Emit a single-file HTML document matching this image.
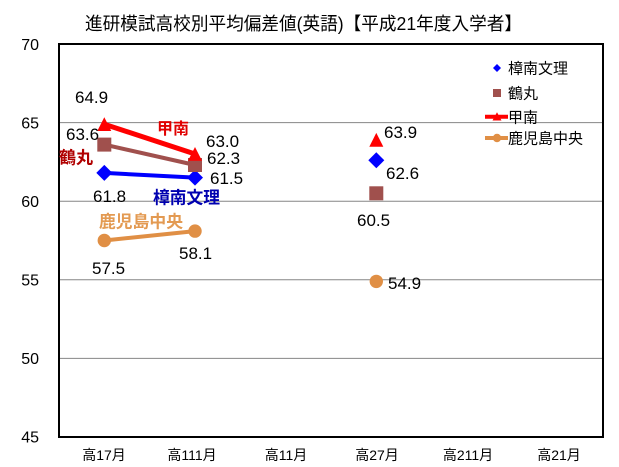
<!DOCTYPE html>
<html>
<head>
<meta charset="utf-8">
<style>
html,body{margin:0;padding:0;background:#fff;}
svg{display:block;}
text{font-family:"Liberation Sans","Noto Sans CJK JP",sans-serif;}
</style>
</head>
<body>
<svg width="619" height="467" viewBox="0 0 619 467" xmlns="http://www.w3.org/2000/svg">
<rect x="0" y="0" width="619" height="467" fill="#fff"/>
<!-- title -->
<text x="85" y="30" font-size="18" textLength="437" lengthAdjust="spacingAndGlyphs" fill="#000">進研模試高校別平均偏差値(英語)【平成21年度入学者】</text>

<!-- gridlines -->
<g stroke="#868686" stroke-width="1">
<line x1="59" y1="122.6" x2="603" y2="122.6"/>
<line x1="59" y1="201.2" x2="603" y2="201.2"/>
<line x1="59" y1="279.8" x2="603" y2="279.8"/>
<line x1="59" y1="358.4" x2="603" y2="358.4"/>
</g>
<!-- plot border -->
<rect x="59" y="44" width="544" height="393" fill="none" stroke="#000" stroke-width="2"/>

<!-- y labels -->
<g font-size="16" fill="#000" text-anchor="end">
<text x="39" y="50">70</text>
<text x="39" y="128.5">65</text>
<text x="39" y="207">60</text>
<text x="39" y="285.5">55</text>
<text x="39" y="364">50</text>
<text x="39" y="442.5">45</text>
</g>

<!-- x labels -->
<g font-size="14" fill="#000" text-anchor="middle">
<text x="104" y="460">高17月</text>
<text x="192" y="460">高111月</text>
<text x="286" y="460">高11月</text>
<text x="377" y="460">高27月</text>
<text x="468" y="460">高211月</text>
<text x="559" y="460">高21月</text>
</g>

<!-- series: 樟南文理 blue -->
<line x1="104.3" y1="172.9" x2="195" y2="177.6" stroke="#0000FF" stroke-width="4"/>
<g fill="#0000FF">
<polygon points="104.3,164.9 112.3,172.9 104.3,180.9 96.3,172.9"/>
<polygon points="195,169.6 203,177.6 195,185.6 187,177.6"/>
<polygon points="376.3,152.3 384.3,160.3 376.3,168.3 368.3,160.3"/>
</g>

<!-- series: 鶴丸 brown -->
<line x1="104.3" y1="144.6" x2="195" y2="165" stroke="#A0504D" stroke-width="4"/>
<g fill="#A0504D">
<rect x="97.3" y="137.6" width="14" height="14"/>
<rect x="188" y="158" width="14" height="14"/>
<rect x="369.3" y="186.3" width="14" height="14"/>
</g>

<!-- series: 甲南 red -->
<line x1="104.3" y1="124.2" x2="195" y2="154" stroke="#FF0000" stroke-width="5"/>
<g fill="#FF0000">
<polygon points="104.3,117.2 111.3,131 97.3,131"/>
<polygon points="195,147 202,160.8 188,160.8"/>
<polygon points="376.3,132.9 383.3,146.7 369.3,146.7"/>
</g>

<!-- series: 鹿児島中央 orange -->
<line x1="104.3" y1="240.5" x2="195" y2="231.1" stroke="#E08F45" stroke-width="4"/>
<g fill="#E08F45">
<circle cx="104.3" cy="240.5" r="6.7"/>
<circle cx="195" cy="231.1" r="6.7"/>
<circle cx="376.3" cy="281.4" r="6.7"/>
</g>

<!-- data labels -->
<g font-size="17" fill="#000">
<text x="75" y="103">64.9</text>
<text x="66" y="140">63.6</text>
<text x="206" y="147">63.0</text>
<text x="207" y="164">62.3</text>
<text x="210" y="184">61.5</text>
<text x="93" y="202">61.8</text>
<text x="92" y="274">57.5</text>
<text x="179" y="259">58.1</text>
<text x="384" y="138">63.9</text>
<text x="386" y="179">62.6</text>
<text x="357" y="226">60.5</text>
<text x="388" y="289">54.9</text>
</g>

<!-- series name labels -->
<g font-size="17" font-weight="bold">
<text x="59" y="163.5" fill="#B00000">鶴丸</text>
<text x="157" y="134" font-size="16" fill="#E00000">甲南</text>
<text x="153" y="203.5" fill="#0000B0" textLength="67" lengthAdjust="spacingAndGlyphs">樟南文理</text>
<text x="99" y="227.5" fill="#E39A52" textLength="84" lengthAdjust="spacingAndGlyphs">鹿児島中央</text>
</g>

<!-- legend -->
<g font-size="15" fill="#000">
<polygon points="497,64 501,68 497,72 493,68" fill="#0000FF"/>
<text x="508" y="73.7">樟南文理</text>
<rect x="493" y="89" width="8" height="8" fill="#A0504D"/>
<text x="508" y="98.5">鶴丸</text>
<line x1="485" y1="116.7" x2="508" y2="116.7" stroke="#FF0000" stroke-width="4"/>
<polygon points="497,112.2 501.5,120.5 492.5,120.5" fill="#FF0000"/>
<text x="508" y="122.4">甲南</text>
<line x1="485" y1="138" x2="508" y2="138" stroke="#E08F45" stroke-width="4"/>
<circle cx="497" cy="138" r="4.2" fill="#E08F45"/>
<text x="508" y="143.7">鹿児島中央</text>
</g>
</svg>
</body>
</html>
